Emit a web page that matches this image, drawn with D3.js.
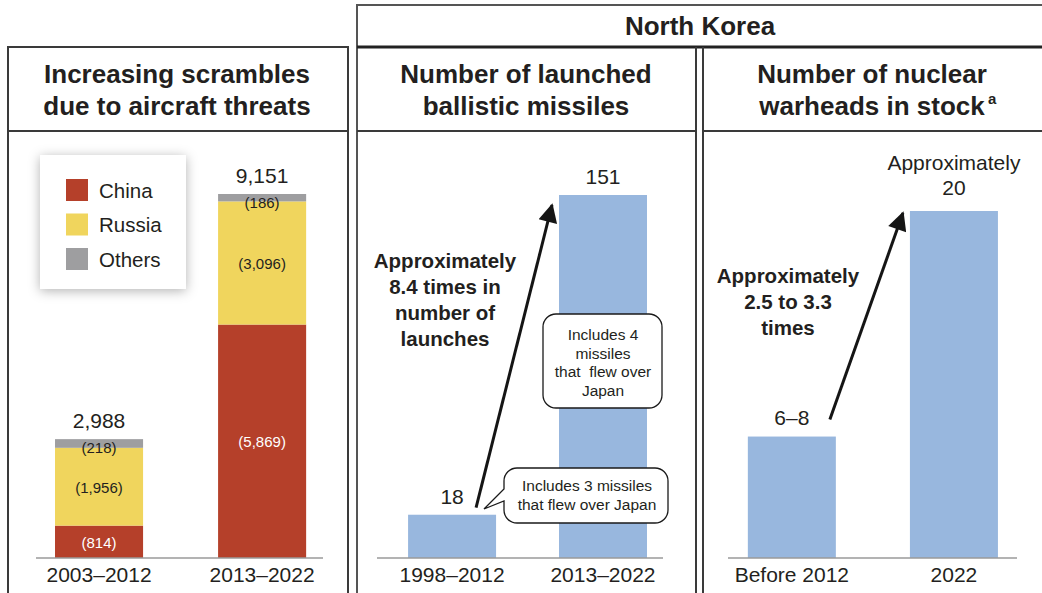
<!DOCTYPE html>
<html>
<head>
<meta charset="utf-8">
<script src="https://cdn.jsdelivr.net/npm/d3@7"></script>
<style>
  html, body { margin: 0; padding: 0; background: #fff; }
  svg { display: block; }
  text { font-family: "Liberation Sans", Arial, Helvetica, sans-serif; fill: #231f20; }
</style>
</head>
<body>
<svg id="chart" width="1042" height="593"></svg>
<script>
// ---- data ----
const scrambleCats = ["2003–2012", "2013–2022"];
const chinaVals = [814, 5869];
const russiaVals = [1956, 3096];
const othersVals = [218, 186];
const scrambleTotals = [2988, 9151];
const legendNames = ["China", "Russia", "Others"];

const missileCats = ["1998–2012", "2013–2022"];
const missileVals = [18, 151];

const warheadCats = ["Before 2012", "2022"];
const warheadVals = [7, 20];            // 6–8 drawn at its midpoint
const warheadLabels = [["6–8"], ["Approximately", "20"]];

// ---- styles ----
const colors = { China: "#b5402a", Russia: "#f0d55d", Others: "#9e9ea0" };
const blue = "#98b7de";
const frame = "#3a3a3a";

const svg = d3.select("#chart");
const W = 1042, H = 593;
const baseY = 558;

// ---- defs: legend shadow, arrowhead ----
const defs = svg.append("defs");
const sh = defs.append("filter").attr("id", "soft").attr("x", "-30%").attr("y", "-30%")
  .attr("width", "160%").attr("height", "160%");
sh.append("feDropShadow").attr("dx", 0).attr("dy", 2).attr("stdDeviation", 6)
  .attr("flood-color", "#000").attr("flood-opacity", 0.3);

defs.append("marker").attr("id", "head")
  .attr("viewBox", "0 0 10 10").attr("refX", 9).attr("refY", 5)
  .attr("markerUnits", "userSpaceOnUse")
  .attr("markerWidth", 26).attr("markerHeight", 19)
  .attr("orient", "auto")
  .append("path").attr("d", "M0,0 L10,5 L0,10 Z").attr("fill", "#151515");

// ---- frames ----
const fr = svg.append("g").attr("fill", "none").attr("stroke", frame);
// left panel
fr.append("path").attr("d", `M8,${H} V47 H348 V${H}`).attr("stroke-width", 2);
fr.append("line").attr("x1", 8).attr("x2", 348).attr("y1", 131).attr("y2", 131).attr("stroke-width", 2);
// North Korea header
fr.append("path").attr("d", `M357,${H} V5 H${W + 2}`).attr("stroke-width", 2).attr("stroke", "#555");
fr.append("line").attr("x1", 357).attr("x2", W + 2).attr("y1", 47).attr("y2", 47).attr("stroke-width", 3).attr("stroke", "#222");
// middle / right separators
fr.append("line").attr("x1", 696).attr("x2", 696).attr("y1", 47).attr("y2", H).attr("stroke-width", 2);
fr.append("line").attr("x1", 703).attr("x2", 703).attr("y1", 47).attr("y2", H).attr("stroke-width", 2);
fr.append("line").attr("x1", 357).attr("x2", 696).attr("y1", 131).attr("y2", 131).attr("stroke-width", 2);
fr.append("line").attr("x1", 703).attr("x2", W + 2).attr("y1", 131).attr("y2", 131).attr("stroke-width", 2);

// ---- titles ----
function title(x, lines, y0) {
  const t = svg.append("text").attr("text-anchor", "middle")
    .attr("font-size", 26).attr("font-weight", "bold");
  lines.forEach((l, i) => t.append("tspan").attr("x", x).attr("y", y0 + i * 32).text(l));
  return t;
}
title(700, ["North Korea"], 35);
title(177, ["Increasing scrambles", "due to aircraft threats"], 83);
title(526, ["Number of launched", "ballistic missiles"], 83);
const rt = svg.append("text").attr("text-anchor", "middle").attr("font-size", 26).attr("font-weight", "bold");
rt.append("tspan").attr("x", 872).attr("y", 83).text("Number of nuclear");
rt.append("tspan").attr("x", 872).attr("y", 115).text("warheads in stock");
svg.append("text").attr("x", 988).attr("y", 104).attr("font-size", 15).attr("font-weight", "bold").text("a");

// ---- helpers ----
function bottomAxis(x, x0, x1) {
  const g = svg.append("g").attr("transform", `translate(0,${baseY})`);
  g.append("line").attr("x1", x0).attr("x2", x1).attr("stroke", "#9a9a9a").attr("stroke-width", 1.5);
  const ax = d3.axisBottom(x).tickSize(0).tickPadding(0);
  const ag = svg.append("g").attr("transform", `translate(0,${baseY})`).call(ax);
  ag.select(".domain").remove();
  ag.selectAll("text").attr("dy", null).attr("y", 24)
    .attr("font-size", 21).attr("font-family", null).attr("fill", "#231f20");
}

// ---- left panel: stacked scrambles ----
const xL = d3.scaleBand().domain(scrambleCats).range([36, 323])
  .paddingInner(0.46).paddingOuter(0.11).align(0.53);
const yL = d3.scaleLinear().domain([0, 9151]).range([baseY, 194]);

const rows = scrambleCats.map((c, i) => ({ cat: c, China: chinaVals[i], Russia: russiaVals[i], Others: othersVals[i], total: scrambleTotals[i] }));
const stack = d3.stack().keys(legendNames)(rows);

const gL = svg.append("g");
stack.forEach(layer => {
  gL.selectAll(null).data(layer).join("rect")
    .attr("x", d => xL(d.data.cat))
    .attr("width", xL.bandwidth())
    .attr("y", d => yL(d[1]))
    .attr("height", d => yL(d[0]) - yL(d[1]))
    .attr("fill", colors[layer.key]);
});
const fmt = d3.format(",");
stack.forEach(layer => {
  gL.selectAll(null).data(layer).join("text")
    .attr("text-anchor", "middle")
    .attr("font-size", 15)
    .attr("x", d => xL(d.data.cat) + xL.bandwidth() / 2)
    .attr("y", d => layer.key === "Others" ? yL(d[1]) + 14 : (yL(d[0]) + yL(d[1])) / 2 + 6)
    .style("fill", layer.key === "China" ? "#fff" : "#231f20")
    .text(d => `(${fmt(d.data[layer.key])})`);
});
gL.selectAll(null).data(rows).join("text")
  .attr("text-anchor", "middle").attr("font-size", 21)
  .attr("x", d => xL(d.cat) + xL.bandwidth() / 2)
  .attr("y", d => yL(d.total) - 11)
  .text(d => fmt(d.total));
bottomAxis(xL, 36, 323);

// legend
const lg = svg.append("g").attr("transform", "translate(40,155)");
lg.append("rect").attr("width", 146).attr("height", 134).attr("fill", "#fff").attr("filter", "url(#soft)");
legendNames.forEach((n, i) => {
  const r = lg.append("g").attr("transform", `translate(26,${24 + i * 34.5})`);
  r.append("rect").attr("width", 22).attr("height", 22).attr("fill", colors[n]);
  r.append("text").attr("x", 33).attr("y", 18.5).attr("font-size", 20.5).text(n);
});

// ---- middle panel: missiles ----
const xM = d3.scaleBand().domain(missileCats).range([377, 663])
  .paddingInner(0.417).paddingOuter(0.156).align(0.66);
const yM = d3.scaleLinear().domain([0, 151]).range([baseY, 195]);
const gM = svg.append("g");
gM.selectAll(null).data(missileVals).join("rect")
  .attr("x", (d, i) => xM(missileCats[i])).attr("width", xM.bandwidth())
  .attr("y", d => yM(d)).attr("height", d => baseY - yM(d)).attr("fill", blue);
gM.selectAll(null).data(missileVals).join("text")
  .attr("text-anchor", "middle").attr("font-size", 21)
  .attr("x", (d, i) => xM(missileCats[i]) + xM.bandwidth() / 2)
  .attr("y", d => yM(d) - 11).text(d => d);
bottomAxis(xM, 377, 663);

// growth arrow (middle)
svg.append("line")
  .attr("x1", xM(missileCats[0]) + xM.bandwidth() - 20).attr("y1", yM(missileVals[0]) - 7)
  .attr("x2", xM(missileCats[1]) - 7).attr("y2", yM(missileVals[1]) + 10)
  .attr("stroke", "#151515").attr("stroke-width", 3).attr("marker-end", "url(#head)");

function boldNote(x, y0, lines) {
  const t = svg.append("text").attr("text-anchor", "middle").attr("font-size", 20.5).attr("font-weight", "bold");
  lines.forEach((l, i) => t.append("tspan").attr("x", x).attr("y", y0 + i * 26).text(l));
}
boldNote(445, 268, ["Approximately", "8.4 times in", "number of", "launches"]);

// callouts
function bubble(x0, y0, x1, y1, r, tail) {
  const p = d3.path();
  p.moveTo(x0 + r, y0);
  p.lineTo(x1 - r, y0); p.arcTo(x1, y0, x1, y0 + r, r);
  p.lineTo(x1, y1 - r); p.arcTo(x1, y1, x1 - r, y1, r);
  p.lineTo(x0 + r, y1); p.arcTo(x0, y1, x0, y1 - r, r);
  if (tail) {
    p.lineTo(x0, tail[2]);
    p.lineTo(tail[0], tail[1]);
    p.lineTo(x0, tail[3]);
  }
  p.lineTo(x0, y0 + r); p.arcTo(x0, y0, x0 + r, y0, r);
  p.closePath();
  svg.append("path").attr("d", p.toString()).attr("fill", "#fff").attr("stroke", "#1a1a1a").attr("stroke-width", 1.3);
}
function noteText(x, y0, lines, lh) {
  const t = svg.append("text").attr("text-anchor", "middle").attr("font-size", 15.5).attr("xml:space", "preserve");
  lines.forEach((l, i) => t.append("tspan").attr("x", x).attr("y", y0 + i * lh).text(l));
}
bubble(543, 314, 662, 408, 13, null);
noteText(603, 340, ["Includes 4", "missiles", "that  flew over", "Japan"], 18.5);
bubble(504, 468, 668, 523, 13, [484, 509, 501, 489]);
noteText(587, 491, ["Includes 3 missiles", "that flew over Japan"], 18.5);

// ---- right panel: warheads ----
const xR = d3.scaleBand().domain(warheadCats).range([728, 1017])
  .paddingInner(0.457).paddingOuter(0.12).align(0.51);
const yR = d3.scaleLinear().domain([0, 20]).range([baseY, 211]);
const gR = svg.append("g");
gR.selectAll(null).data(warheadVals).join("rect")
  .attr("x", (d, i) => xR(warheadCats[i])).attr("width", xR.bandwidth())
  .attr("y", d => yR(d)).attr("height", d => baseY - yR(d)).attr("fill", blue);
warheadVals.forEach((v, i) => {
  const lines = warheadLabels[i];
  const t = svg.append("text").attr("text-anchor", "middle").attr("font-size", 21);
  const cx = xR(warheadCats[i]) + xR.bandwidth() / 2;
  lines.forEach((l, j) => t.append("tspan").attr("x", cx)
    .attr("y", yR(v) - 12 - (lines.length - 1 - j) * 25 - (lines.length > 1 ? 4 : 0)).text(l));
});
bottomAxis(xR, 728, 1017);

svg.append("line")
  .attr("x1", xR(warheadCats[0]) + xR.bandwidth() - 6).attr("y1", yR(warheadVals[0]) - 17)
  .attr("x2", xR(warheadCats[1]) - 7).attr("y2", yR(warheadVals[1]) + 2)
  .attr("stroke", "#151515").attr("stroke-width", 3).attr("marker-end", "url(#head)");
boldNote(788, 283, ["Approximately", "2.5 to 3.3", "times"]);
</script>
</body>
</html>
